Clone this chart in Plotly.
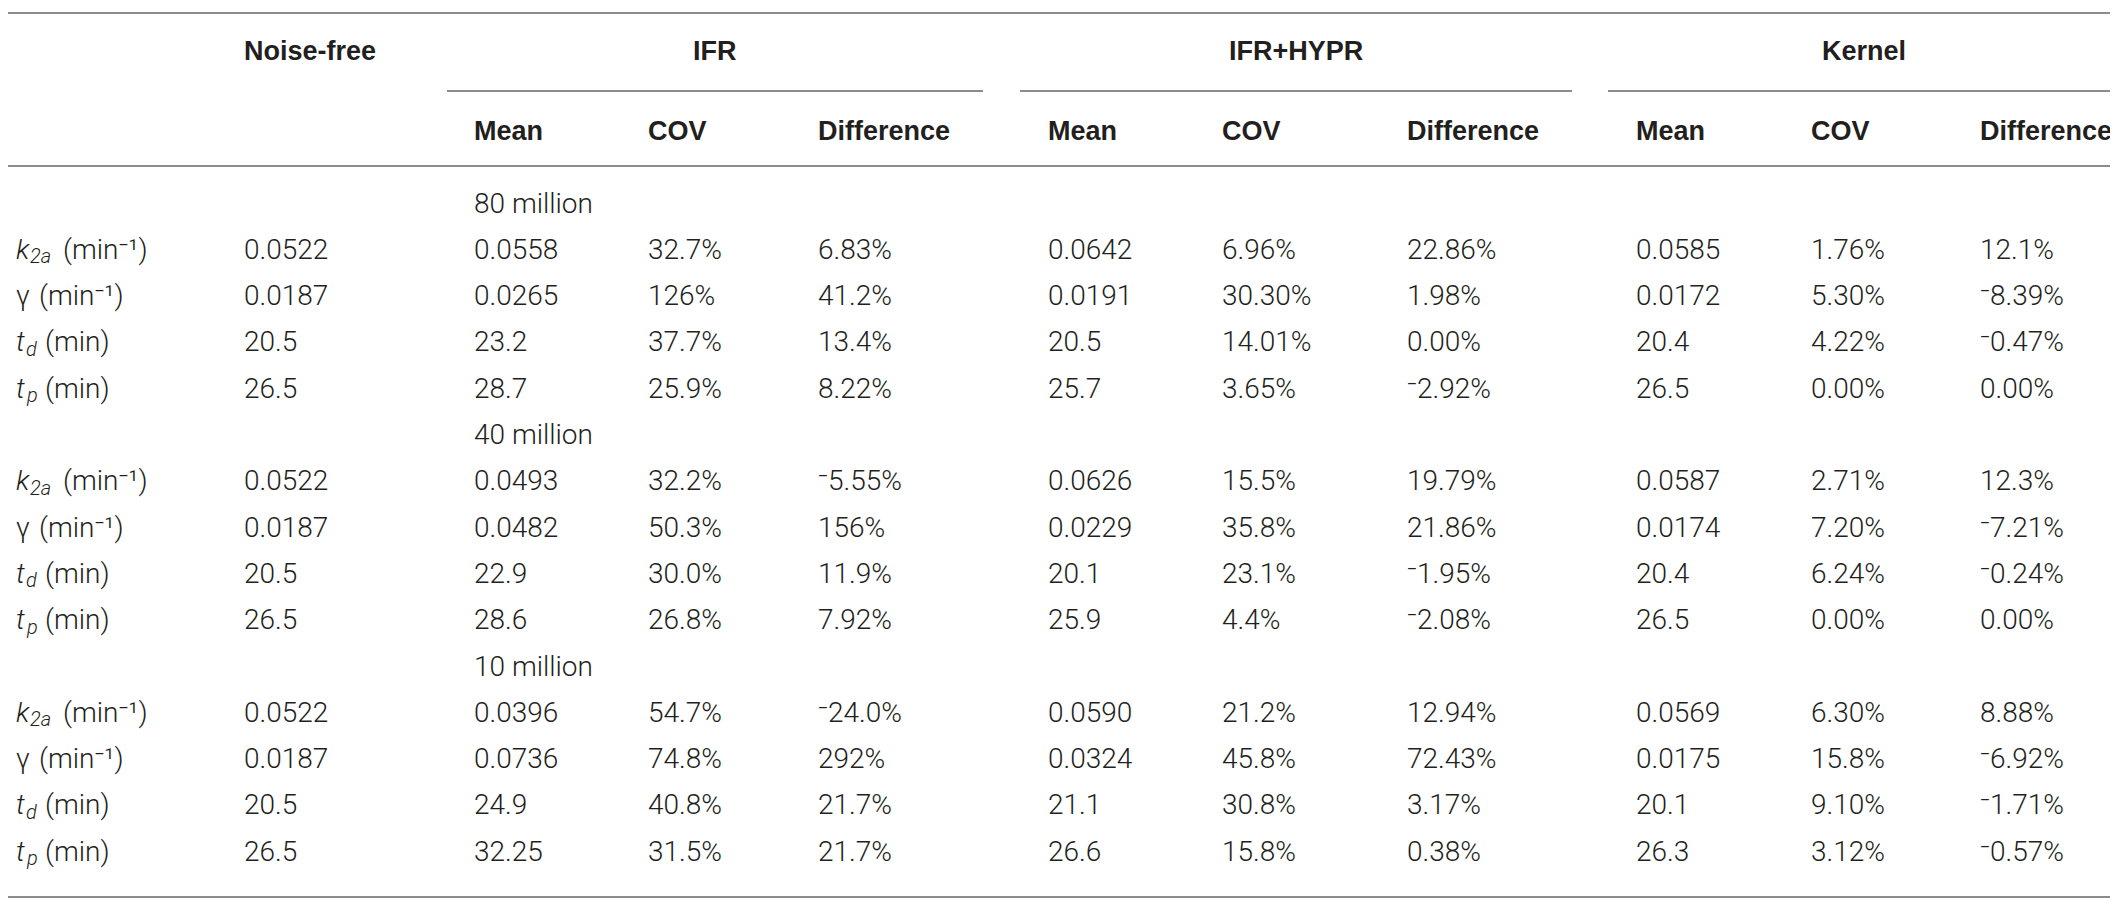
import plotly.graph_objects as go

# table contents
# row label = (symbol, subscript, unit)
row_labels = [("k", "2a", "(min⁻¹)"),
              ("γ", "", "(min⁻¹)"),
              ("t", "d", "(min)"),
              ("t", "p", "(min)")]
groups = ["IFR", "IFR+HYPR", "Kernel"]
sub_headers = ["Mean", "COV", "Difference"]
counts = ["80 million", "40 million", "10 million"]

noise_free = ["0.0522", "0.0187", "20.5", "26.5"]

# one list per column, 4 rows per count block (80, 40, 10 million)
ifr_mean = ["0.0558", "0.0265", "23.2", "28.7",
            "0.0493", "0.0482", "22.9", "28.6",
            "0.0396", "0.0736", "24.9", "32.25"]
ifr_cov = ["32.7%", "126%", "37.7%", "25.9%",
           "32.2%", "50.3%", "30.0%", "26.8%",
           "54.7%", "74.8%", "40.8%", "31.5%"]
ifr_diff = ["6.83%", "41.2%", "13.4%", "8.22%",
            "-5.55%", "156%", "11.9%", "7.92%",
            "-24.0%", "292%", "21.7%", "21.7%"]
hypr_mean = ["0.0642", "0.0191", "20.5", "25.7",
             "0.0626", "0.0229", "20.1", "25.9",
             "0.0590", "0.0324", "21.1", "26.6"]
hypr_cov = ["6.96%", "30.30%", "14.01%", "3.65%",
            "15.5%", "35.8%", "23.1%", "4.4%",
            "21.2%", "45.8%", "30.8%", "15.8%"]
hypr_diff = ["22.86%", "1.98%", "0.00%", "-2.92%",
             "19.79%", "21.86%", "-1.95%", "-2.08%",
             "12.94%", "72.43%", "3.17%", "0.38%"]
kern_mean = ["0.0585", "0.0172", "20.4", "26.5",
             "0.0587", "0.0174", "20.4", "26.5",
             "0.0569", "0.0175", "20.1", "26.3"]
kern_cov = ["1.76%", "5.30%", "4.22%", "0.00%",
            "2.71%", "7.20%", "6.24%", "0.00%",
            "6.30%", "15.8%", "9.10%", "3.12%"]
kern_diff = ["12.1%", "-8.39%", "-0.47%", "0.00%",
             "12.3%", "-7.21%", "-0.24%", "0.00%",
             "8.88%", "-6.92%", "-1.71%", "-0.57%"]

columns = [ifr_mean, ifr_cov, ifr_diff,
           hypr_mean, hypr_cov, hypr_diff,
           kern_mean, kern_cov, kern_diff]

# layout (pixel grid)
W, H = 2118, 898
label_x = 6
sub_dx = [14, 0, 10, 10]      # where the subscript starts, after the symbol
unit_dx = [47, 23, 29, 29]    # where the unit starts
nf_x = 234
col_x = [464, 638, 808, 1038, 1212, 1397, 1626, 1801, 1970]
group_lines = [(439, 975), (1012, 1564), (1600, 2112)]
y_group, y_gap, y_sub, y_first, row_step = 43, 83, 123, 195, 46.3
rules_y = [5, 158, 889]

TXT = "#231f20"
LINE = "#8c8c8c"
FAM = "Roboto, Liberation Sans, Arial"
body_font = dict(family=FAM, size=28, color=TXT, weight=300)
ital_font = dict(family=FAM, size=28, color=TXT, weight=300, style="italic")
subs_font = dict(family=FAM, size=20, color=TXT, weight=300, style="italic")
head_font = dict(family="Liberation Sans, Arial", size=27, color=TXT, weight="bold")


def fmt(v):
    # raised minus, as in the printed table
    return "⁻" + v[1:] if v.startswith("-") else v


fig = go.Figure()
ann = []


def put(x, y, text, font, anchor="left"):
    ann.append(dict(x=x, y=y, xref="x", yref="y", text=text, showarrow=False,
                    xanchor=anchor, yanchor="middle", font=font))


# headers
put(nf_x, y_group, "Noise-free", head_font)
for g, (x0, x1) in zip(groups, group_lines):
    put((x0 + x1) / 2, y_group, g, head_font, "center")
for i, x in enumerate(col_x):
    put(x, y_sub, sub_headers[i % 3], head_font)

# body
row = 0
for b, cnt in enumerate(counts):
    put(col_x[0], y_first + row * row_step, cnt, body_font)
    row += 1
    for r in range(4):
        y = y_first + row * row_step
        sym, sub, unit = row_labels[r]
        put(label_x, y, sym, ital_font if sub else body_font)
        if sub:
            put(label_x + sub_dx[r], y + 7, sub, subs_font)
        put(label_x + unit_dx[r], y, unit, body_font)
        put(nf_x, y, noise_free[r], body_font)
        for x, col in zip(col_x, columns):
            put(x, y, fmt(col[b * 4 + r]), body_font)
        row += 1

shapes = []
for y in rules_y:
    shapes.append(dict(type="line", xref="x", yref="y", x0=0, x1=2112, y0=y, y1=y,
                       line=dict(color=LINE, width=2)))
for x0, x1 in group_lines:
    shapes.append(dict(type="line", xref="x", yref="y", x0=x0, x1=x1, y0=y_gap, y1=y_gap,
                       line=dict(color=LINE, width=2)))

fig.update_layout(
    width=W, height=H,
    margin=dict(l=0, r=0, t=0, b=0),
    paper_bgcolor="white", plot_bgcolor="white",
    xaxis=dict(range=[0, W], visible=False, fixedrange=True),
    yaxis=dict(range=[H, 0], visible=False, fixedrange=True),
    annotations=ann, shapes=shapes, showlegend=False,
)

fig.write_html("out.html")
